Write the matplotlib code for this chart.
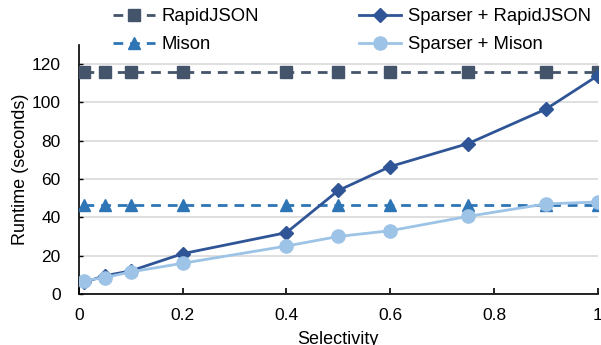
import matplotlib
matplotlib.use("Agg")
import matplotlib.pyplot as plt

plt.rcParams['font.family'] = ['Liberation Sans', 'DejaVu Sans']

selectivity = [0.01, 0.05, 0.1, 0.2, 0.4, 0.5, 0.6, 0.75, 0.9, 1.0]
rapidjson = [116, 116, 116, 116, 116, 116, 116, 116, 116, 116]
mison = [46.5, 46.5, 46.5, 46.5, 46.5, 46.5, 46.5, 46.5, 46.5, 46.5]
sparser_rapidjson = [6, 9.5, 12, 21, 32, 54, 66.5, 78.5, 96.5, 114]
sparser_mison = [7, 8.5, 11.5, 16, 25, 30, 33, 40.5, 47, 48]

fig = plt.figure(figsize=(6.01, 3.45), dpi=100)
ax = fig.add_axes([0.131, 0.148, 0.864, 0.722])

dash = (3.5, 2.5)
ax.plot(selectivity, rapidjson, color='#44546A', linestyle='--', dashes=dash,
        linewidth=2, marker='s', markersize=8, label='RapidJSON', zorder=3)
ax.plot(selectivity, sparser_rapidjson, color='#2F5597', linewidth=2,
        marker='D', markersize=7.5, label='Sparser + RapidJSON', zorder=4)
ax.plot(selectivity, mison, color='#2E75B6', linestyle='--', dashes=dash,
        linewidth=2, marker='^', markersize=9, label='Mison', zorder=3)
ax.plot(selectivity, sparser_mison, color='#9DC3E6', linewidth=2,
        marker='o', markersize=9.5, label='Sparser + Mison', zorder=5)

ax.set_xlim(0, 1)
ax.set_ylim(0, 130)
ax.set_xticks([0, 0.2, 0.4, 0.6, 0.8, 1.0])
ax.set_xticklabels(['0', '0.2', '0.4', '0.6', '0.8', '1'])
ax.set_yticks([0, 20, 40, 60, 80, 100, 120])
ax.tick_params(axis='x', direction='in', length=4, width=1.2, labelsize=12.5, pad=10)
ax.tick_params(axis='y', direction='in', length=3, width=1, labelsize=12.5, pad=13)
ax.yaxis.grid(True, color='#D9D9D9', linewidth=1.2)
ax.set_axisbelow(True)
for s in ['top', 'right']:
    ax.spines[s].set_visible(False)
for s in ['left', 'bottom']:
    ax.spines[s].set_linewidth(1.2)

ax.set_xlabel('Selectivity', fontsize=13, labelpad=6)
ax.set_ylabel('Runtime (seconds)', fontsize=13, labelpad=2)

handles, labels = ax.get_legend_handles_labels()
order = [0, 2, 1, 3]
fig.legend([handles[i] for i in order], [labels[i] for i in order],
           loc='upper center', bbox_to_anchor=(0.585, 1.025), ncol=2,
           frameon=False, fontsize=13.3, handlelength=2.3, columnspacing=5.4,
           handletextpad=0.35, labelspacing=0.6)

fig.savefig('out.png', dpi=100)
